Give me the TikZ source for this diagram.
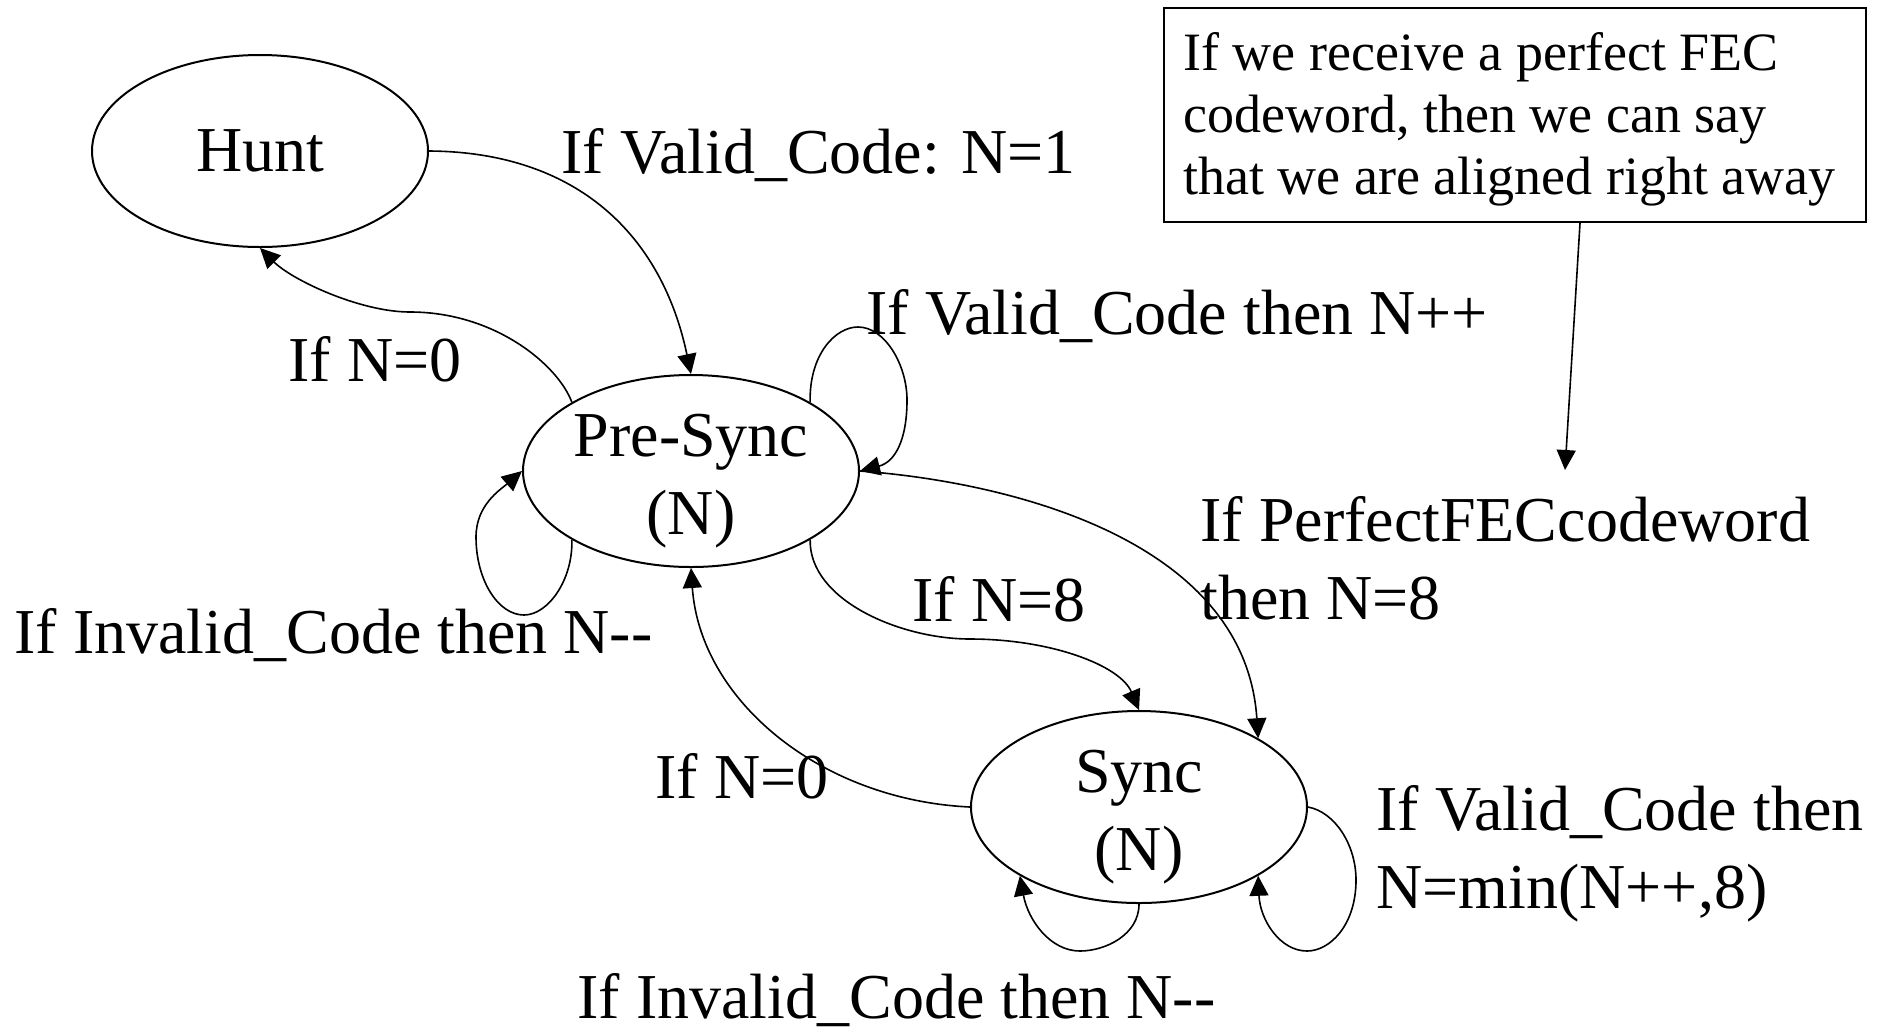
\documentclass[tikz,border=0pt]{standalone}
\usepackage{fontspec}
\newfontfamily\timesfam{Liberation Serif}
\usetikzlibrary{arrows.meta,shapes.geometric}
\newcommand\lblfont{\timesfam\fontsize{32pt}{39pt}\selectfont}
\newcommand\notefont{\timesfam\fontsize{27pt}{31pt}\selectfont}
\begin{document}
\begin{tikzpicture}[x=0.5pt,y=-0.5pt,
  state/.style={draw, ellipse, line width=1pt, minimum width=168pt,
    minimum height=96pt, inner sep=0pt, font=\lblfont},
  twoline/.style={text height=26pt, text depth=41pt},
  lbl/.style={font=\lblfont, inner sep=0pt, anchor=base west},
  edge/.style={line width=0.8pt},
  arr/.style={edge, -{Triangle[length=10pt,width=9.5pt]}},
  notebox/.style={draw, line width=1pt, inner sep=0pt, anchor=north west,
    minimum width=351pt, minimum height=107pt},
]
\useasboundingbox (0,0) rectangle (1893,1029);

% states
\node[state] (hunt) at (260,151) {Hunt};
\node[state, twoline] (pre) at (691,471)
  {\begin{tabular}[t]{@{}c@{}}Pre-Sync\\(N)\end{tabular}};
\node[state, twoline] (sync) at (1139,807)
  {\begin{tabular}[t]{@{}c@{}}Sync\\(N)\end{tabular}};

% annotation box
\node[notebox] (note) at (1163,7) {};
\node[font=\notefont, inner sep=0pt, anchor=base west] (notetext) at (1183,70)
  {\begin{tabular}[t]{@{}l@{}}If we receive a perfect FEC\\codeword, then we can say\\that we are aligned right away\end{tabular}};

% transition labels
\node[lbl] (l1) at (561,173) {If Valid\_Code: N=1};
\node[lbl] (l2) at (288,381) {If N=0};
\node[lbl] (l3) at (866,334) {If Valid\_Code then N++};
\node[lbl] (l4) at (14,653) {If Invalid\_Code then N-\kern0pt-};
\node[lbl] (l5) at (912,621) {If N=8};
\node[lbl] (l6) at (1200,541)
  {\begin{tabular}[t]{@{}l@{}}If PerfectFECcodeword\\then N=8\end{tabular}};
\node[lbl] (l7) at (655,798) {If N=0};
\node[lbl] (l8) at (1376,830)
  {\begin{tabular}[t]{@{}l@{}}If Valid\_Code then\\N=min(N++,8)\end{tabular}};
\node[lbl] (l9) at (577,1018) {If Invalid\_Code then N-\kern0pt-};

% transitions
\draw[arr] (hunt.east) .. controls (578,152) and (662,236) .. (pre.north);
\draw[arr] (pre.150) .. controls (558,365) and (495,312) .. (410,312)
  .. controls (360,312) and (292,280) .. (hunt.south);
\draw[arr] (pre.30) .. controls (809,355) and (835,327) .. (858,327)
  .. controls (885,327) and (907,365) .. (907,400)
  .. controls (907,440) and (895,462) .. (pre.east);
\draw[arr] (pre.210) .. controls (573,580) and (548,615) .. (524,615)
  .. controls (498,615) and (476,580) .. (476,537)
  .. controls (476,505) and (500,490) .. (pre.west);
\draw[arr] (pre.330) .. controls (809,600) and (900,639) .. (970,639)
  .. controls (1050,639) and (1120,665) .. (sync.north);
\draw[arr] (pre.east) .. controls (1010,482) and (1245,540) .. (sync.30);
\draw[arr] (sync.west) .. controls (820,800) and (700,700) .. (pre.south);
\draw[arr] (sync.south) .. controls (1139,935) and (1105,951) .. (1080,951)
  .. controls (1050,951) and (1028,920) .. (sync.210);
\draw[arr] (sync.east) .. controls (1335,812) and (1356,845) .. (1356,880)
  .. controls (1356,925) and (1330,951) .. (1307,951)
  .. controls (1280,951) and (1260,920) .. (sync.330);

% pointer from the note to the PerfectFECcodeword transition
\coordinate (pointer) at (1565,470);
\draw[arr] ([xshift=32.5pt]note.south) -- (pointer);
\end{tikzpicture}
\end{document}
